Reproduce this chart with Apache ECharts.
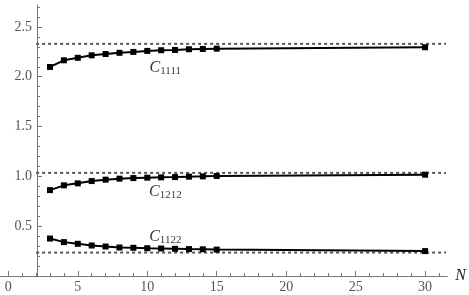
<!DOCTYPE html>
<html>
<head>
<meta charset="utf-8">
<script src="https://cdn.jsdelivr.net/npm/echarts@6.0.0/dist/echarts.min.js"></script>
<style>
  html, body { margin: 0; padding: 0; background: #fff; }
  #main { width: 469px; height: 295px; }
</style>
</head>
<body>
<div id="main"></div>
<script>
// sample sizes N and the three computed moduli
var nValues = [3, 4, 5, 6, 7, 8, 9, 10, 11, 12, 13, 14, 15, 30];
var c1111 = [2.098, 2.165, 2.19, 2.215, 2.228, 2.24, 2.249, 2.259, 2.266, 2.269, 2.276, 2.279, 2.282, 2.296];
var c1212 = [0.862, 0.91, 0.93, 0.953, 0.967, 0.977, 0.983, 0.987, 0.99, 0.993, 0.997, 1.0, 1.004, 1.017];
var c1122 = [0.376, 0.34, 0.323, 0.306, 0.296, 0.286, 0.283, 0.279, 0.276, 0.273, 0.27, 0.268, 0.265, 0.25];

// limiting values (dotted lines), drawn from N = 2 to 31.5
var asymptotes = [2.33, 1.035, 0.235];
var asymptoteSpan = [2, 31.5];

// curve labels, anchored in data coords
var labelSubs = ['1111', '1212', '1122'];
var labelAt = [[11.3, 2.09], [11.3, 0.85], [11.3, 0.395]];

// ticks
var xMajor = [0, 5, 10, 15, 20, 25, 30];
var xMinor = [1, 2, 3, 4, 6, 7, 8, 9, 11, 12, 13, 14, 16, 17, 18, 19, 21, 22, 23, 24, 26, 27, 28, 29, 31];
var yMajor = [0.5, 1.0, 1.5, 2.0, 2.5];
var yMinor = [0.1, 0.2, 0.3, 0.4, 0.6, 0.7, 0.8, 0.9, 1.1, 1.2, 1.3, 1.4, 1.6, 1.7, 1.8, 1.9, 2.1, 2.2, 2.3, 2.4, 2.6, 2.7];

var serif = '"Liberation Serif", "Times New Roman", serif';
var axisColor = '#777';

function pairs(ys) {
  return nValues.map(function (n, i) { return [n, ys[i]]; });
}

var chart = echarts.init(document.getElementById('main'));

var series = [];
[c1111, c1212, c1122].forEach(function (ys) {
  series.push({
    type: 'line',
    data: pairs(ys),
    symbol: 'rect',
    symbolSize: 6,
    showAllSymbol: true,
    lineStyle: { color: '#000', width: 2 },
    itemStyle: { color: '#000' },
    z: 3,
    animation: false
  });
});
asymptotes.forEach(function (v) {
  series.push({
    type: 'line',
    data: [[asymptoteSpan[0], v], [asymptoteSpan[1], v]],
    symbol: 'none',
    lineStyle: { color: '#555', width: 2, type: [3, 3] },
    z: 2,
    animation: false
  });
});
series.push({
  type: 'scatter',
  data: labelAt.map(function (p, i) { return { value: p, sub: labelSubs[i] }; }),
  symbolSize: 0,
  label: {
    show: true,
    position: 'inside',
    formatter: function (p) { return '{c|C}{s|' + p.data.sub + '}'; },
    rich: {
      c: { fontFamily: serif, fontStyle: 'italic', fontSize: 16, color: '#000', verticalAlign: 'bottom' },
      s: { fontFamily: serif, fontSize: 11, color: '#000', verticalAlign: 'bottom', padding: [0, 0, -1, 0] }
    }
  },
  animation: false
});

var xBase = {
  type: 'value',
  min: -0.6,
  max: 31.6,
  position: 'bottom',
  splitLine: { show: false }
};
var yBase = {
  type: 'value',
  min: 0,
  max: 2.72,
  position: 'left',
  offset: -37,
  splitLine: { show: false }
};

chart.setOption({
  backgroundColor: '#fff',
  animation: false,
  grid: { left: 0, top: 5, width: 448, height: 271 },
  xAxis: [
    Object.assign({}, xBase, {
      name: 'N',
      nameLocation: 'end',
      nameGap: 8,
      nameTextStyle: { fontFamily: serif, fontStyle: 'italic', fontSize: 16, color: '#222', verticalAlign: 'middle' },
      axisLine: { show: true, lineStyle: { color: axisColor, width: 1 } },
      axisTick: { show: true, inside: true, length: 5, customValues: xMajor, lineStyle: { color: axisColor } },
      axisLabel: { show: true, margin: 4, customValues: xMajor, fontFamily: serif, fontSize: 14, color: '#555' }
    }),
    Object.assign({}, xBase, {
      axisLine: { show: false },
      axisTick: { show: true, inside: true, length: 3, customValues: xMinor, lineStyle: { color: axisColor } },
      axisLabel: { show: false }
    })
  ],
  yAxis: [
    Object.assign({}, yBase, {
      axisLine: { show: true, lineStyle: { color: axisColor, width: 1 } },
      axisTick: { show: true, inside: true, length: 5, customValues: yMajor, lineStyle: { color: axisColor } },
      axisLabel: {
        show: true, margin: 5, customValues: yMajor, fontFamily: serif, fontSize: 14, color: '#555',
        formatter: function (v) { return v.toFixed(1); }
      }
    }),
    Object.assign({}, yBase, {
      axisLine: { show: false },
      axisTick: { show: true, inside: true, length: 3, customValues: yMinor, lineStyle: { color: axisColor } },
      axisLabel: { show: false }
    })
  ],
  series: series
});
</script>
</body>
</html>
